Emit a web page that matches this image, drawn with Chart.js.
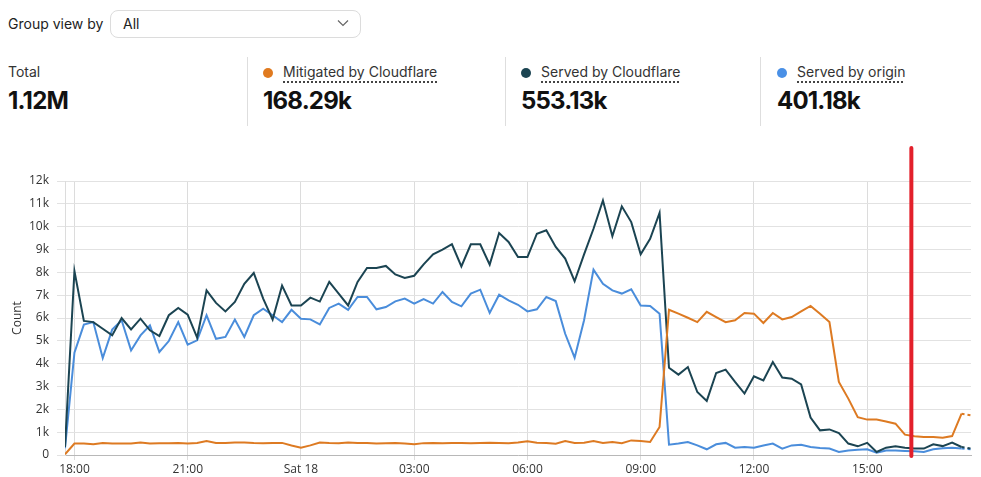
<!DOCTYPE html>
<html>
<head>
<meta charset="utf-8">
<script src="https://cdn.jsdelivr.net/npm/chart.js@4.4.1/dist/chart.umd.min.js"></script>
<style>
  html, body { margin: 0; padding: 0; background: #fff; }
  body { width: 981px; height: 477px; position: relative; overflow: hidden; font-family: Inter, 'Noto Sans', sans-serif; color: #222; }
  .group-label { position: absolute; left: 8px; top: 14px; font-size: 14px; line-height: 20px; color: #222; }
  .select { position: absolute; left: 110px; top: 10px; width: 249px; height: 26px; border: 1px solid #dcdcdc; border-radius: 8px; box-sizing: content-box; }
  .select span { position: absolute; left: 12px; top: 3px; font-size: 14px; line-height: 20px; }
  .select svg { position: absolute; right: 11px; top: 8px; }
  .divider { position: absolute; top: 57px; width: 1px; height: 69px; background: #dedede; }
  .stat { position: absolute; top: 62px; }
  .stat .name { font-size: 14px; line-height: 20px; color: #333; white-space: nowrap; }
  .stat .name u { text-decoration: underline dotted #444; text-decoration-thickness: 2px; text-underline-offset: 4px; }
  .stat .dot { display: inline-block; width: 10px; height: 10px; border-radius: 50%; margin-right: 10px; vertical-align: -1px; }
  .stat .value { font-size: 24px; font-weight: 700; line-height: 30px; letter-spacing: -0.8px; color: #111; margin-top: 4px; }
  #chart-wrap { position: absolute; left: 0; top: 140px; width: 981px; height: 337px; }
</style>
</head>
<body>
<div class="group-label">Group view by</div>
<div class="select"><span>All</span>
  <svg width="12" height="8" viewBox="0 0 12 8"><path d="M1 1.5 L6 6.5 L11 1.5" fill="none" stroke="#666" stroke-width="1.2"/></svg>
</div>

<div class="stat" style="left:8px"><div class="name">Total</div><div class="value">1.12M</div></div>
<div class="divider" style="left:247px"></div>
<div class="stat" style="left:263px"><div class="name"><span class="dot" style="background:#e07a1f"></span><u>Mitigated by Cloudflare</u></div><div class="value">168.29k</div></div>
<div class="divider" style="left:505px"></div>
<div class="stat" style="left:521px"><div class="name"><span class="dot" style="background:#1b4452"></span><u>Served by Cloudflare</u></div><div class="value">553.13k</div></div>
<div class="divider" style="left:760px"></div>
<div class="stat" style="left:777px"><div class="name"><span class="dot" style="background:#4a90e6"></span><u>Served by origin</u></div><div class="value">401.18k</div></div>

<div id="chart-wrap"><canvas id="traffic-chart"></canvas></div>

<script>
// samples every 15 minutes, hours counted from 18:00 (first sample 17:45)
const START_HOUR = -0.25;
const STEP_HOURS = 0.25;

const X_TICK_HOURS = [0, 3, 6, 9, 12, 15, 18, 21];
const X_TICK_LABELS = ['18:00', '21:00', 'Sat 18', '03:00', '06:00', '09:00', '12:00', '15:00'];

// request counts, in thousands
const MITIGATED_K = [
  0.03, 0.50, 0.50, 0.47, 0.53, 0.50, 0.50, 0.50, 0.55, 0.50,
  0.52, 0.52, 0.53, 0.50, 0.53, 0.61, 0.53, 0.53, 0.55, 0.55,
  0.53, 0.52, 0.53, 0.53, 0.42, 0.32, 0.42, 0.55, 0.53, 0.52,
  0.55, 0.53, 0.53, 0.50, 0.52, 0.53, 0.50, 0.47, 0.52, 0.53,
  0.52, 0.53, 0.53, 0.52, 0.53, 0.54, 0.53, 0.52, 0.55, 0.60,
  0.54, 0.53, 0.49, 0.61, 0.53, 0.54, 0.61, 0.53, 0.57, 0.52,
  0.64, 0.61, 0.57, 1.23, 6.36, 6.19, 6.01, 5.82, 6.27, 6.04,
  5.82, 5.90, 6.22, 6.19, 5.78, 6.22, 5.94, 6.04, 6.29, 6.53,
  6.19, 5.82, 3.20, 2.47, 1.66, 1.55, 1.55, 1.47, 1.37, 0.89,
  0.82, 0.79, 0.79, 0.76, 0.83, 1.81, 1.74,
];
const SERVED_CF_K = [
  0.35, 8.06, 5.87, 5.82, 5.53, 5.24, 6.00, 5.50, 5.97, 5.46,
  5.21, 6.12, 6.44, 6.15, 5.14, 7.21, 6.66, 6.29, 6.70, 7.50,
  7.97, 6.85, 5.93, 7.42, 6.55, 6.55, 6.89, 6.72, 7.58, 7.07,
  6.55, 7.58, 8.19, 8.19, 8.28, 7.91, 7.75, 7.85, 8.35, 8.79,
  8.99, 9.23, 8.26, 9.23, 9.23, 8.34, 9.72, 9.33, 8.67, 8.67,
  9.69, 9.84, 9.11, 8.60, 7.61, 8.79, 9.91, 11.15, 9.58, 10.89,
  10.20, 8.79, 9.47, 10.60, 3.82, 3.52, 3.85, 2.76, 2.37, 3.59,
  3.74, 3.20, 2.69, 3.45, 3.27, 4.07, 3.39, 3.34, 3.09, 1.64,
  1.08, 1.12, 0.96, 0.50, 0.38, 0.53, 0.13, 0.32, 0.38, 0.32,
  0.28, 0.28, 0.47, 0.39, 0.54, 0.35, 0.28,
];
const SERVED_ORIGIN_K = [
  0.30, 4.48, 5.71, 5.82, 4.25, 5.49, 5.90, 4.58, 5.24, 5.68,
  4.51, 4.99, 5.82, 4.83, 5.02, 6.12, 5.09, 5.17, 5.93, 5.17,
  6.12, 6.41, 6.12, 5.82, 6.36, 5.97, 5.94, 5.72, 6.44, 6.63,
  6.36, 6.92, 6.92, 6.38, 6.48, 6.73, 6.85, 6.63, 6.83, 6.63,
  7.14, 6.70, 6.51, 7.07, 7.24, 6.22, 7.02, 6.77, 6.58, 6.29,
  6.38, 6.92, 6.74, 5.31, 4.26, 5.90, 8.12, 7.50, 7.21, 7.07,
  7.26, 6.55, 6.53, 6.19, 0.45, 0.50, 0.57, 0.42, 0.25, 0.47,
  0.53, 0.32, 0.35, 0.32, 0.42, 0.50, 0.28, 0.42, 0.45, 0.35,
  0.31, 0.28, 0.13, 0.20, 0.23, 0.25, 0.10, 0.20, 0.20, 0.18,
  0.16, 0.13, 0.25, 0.30, 0.32, 0.28, 0.25,
];

const MARKER_HOUR = 22.17;

const COLORS = {
  mitigated: '#dd7a22',
  servedCf: '#1b4452',
  origin: '#4a8ddb',
};

const toPoints = (values) =>
  values.map((y, i) => ({ x: START_HOUR + i * STEP_HOURS, y }));

const lastIndex = SERVED_CF_K.length - 1;
const dashLast = (ctx) => (ctx.p1DataIndex === lastIndex ? [3, 3] : undefined);

function makeDataset(label, values, color) {
  return {
    label,
    data: toPoints(values),
    borderColor: color,
    backgroundColor: color,
    borderWidth: 2,
    pointRadius: 0,
    tension: 0,
    segment: { borderDash: dashLast },
  };
}

const markerPlugin = {
  id: 'marker',
  afterDatasetsDraw(chart) {
    const { ctx, chartArea, scales } = chart;
    const x = scales.x.getPixelForValue(MARKER_HOUR);
    ctx.save();
    ctx.strokeStyle = '#e3202b';
    ctx.lineWidth = 4;
    ctx.lineCap = 'round';
    ctx.beginPath();
    ctx.moveTo(x, chartArea.top - 33);
    ctx.lineTo(x, chartArea.bottom + 1);
    ctx.stroke();
    ctx.restore();
  },
};

const tickFont = { family: "'Open Sans', 'Noto Sans', sans-serif", size: 12 };

new Chart(document.getElementById('traffic-chart'), {
  type: 'line',
  data: {
    datasets: [
      makeDataset('Mitigated by Cloudflare', MITIGATED_K, COLORS.mitigated),
      makeDataset('Served by Cloudflare', SERVED_CF_K, COLORS.servedCf),
      makeDataset('Served by origin', SERVED_ORIGIN_K, COLORS.origin),
    ],
  },
  options: {
    responsive: true,
    maintainAspectRatio: false,
    animation: false,
    layout: { padding: { top: 41, right: 10, left: 0, bottom: 0 } },
    plugins: {
      legend: { display: false },
      tooltip: { enabled: false },
    },
    scales: {
      x: {
        type: 'linear',
        min: START_HOUR,
        max: START_HOUR + lastIndex * STEP_HOURS,
        afterBuildTicks: (scale) => {
          scale.ticks = X_TICK_HOURS.map((value) => ({ value }));
        },
        afterFit: (scale) => {
          scale.height = 22;
        },
        ticks: {
          autoSkip: false,
          maxRotation: 0,
          padding: 2,
          color: '#333',
          font: tickFont,
          callback: (value) => X_TICK_LABELS[X_TICK_HOURS.indexOf(value)],
        },
        grid: { color: '#dcdcdc', tickLength: 5 },
        border: { color: '#b8b8b8' },
      },
      y: {
        min: 0,
        max: 12,
        afterFit: (scale) => {
          scale.width = 65;
        },
        ticks: {
          stepSize: 1,
          padding: 8,
          color: '#333',
          font: tickFont,
          callback: (value) => (value === 0 ? '0' : `${value}k`),
        },
        title: {
          display: true,
          text: 'Count',
          color: '#333',
          font: tickFont,
          padding: { top: 10, bottom: 0 },
        },
        grid: { color: '#e2e2e2', tickLength: 8 },
        border: { color: '#dcdcdc' },
      },
    },
  },
  plugins: [markerPlugin],
});
</script>
</body>
</html>
